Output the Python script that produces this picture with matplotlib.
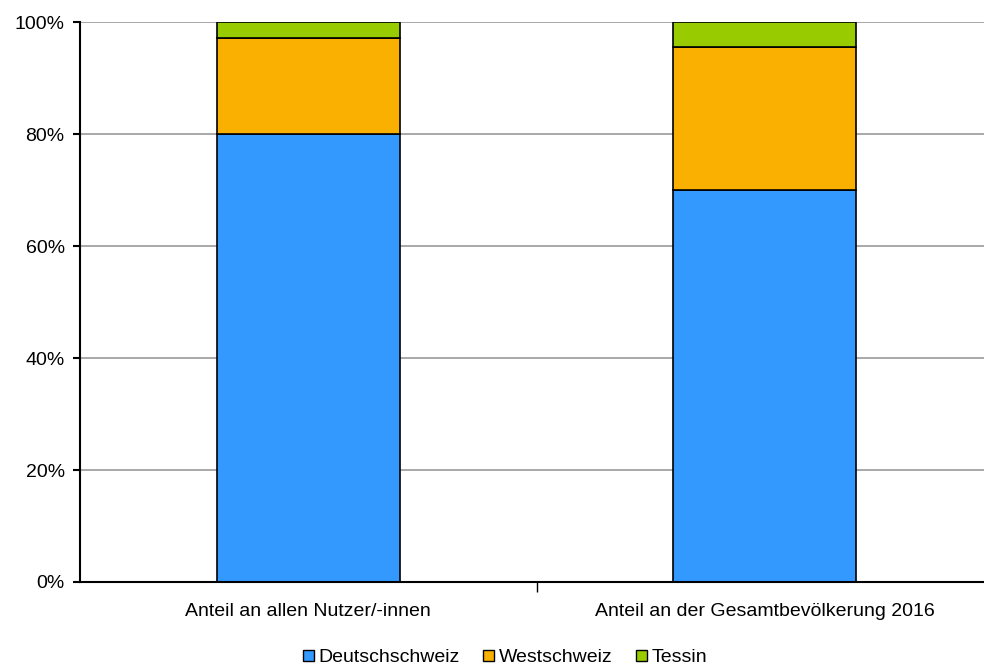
# stacked percentage bars by language region
import matplotlib.pyplot as plt
import numpy as np
from matplotlib.patches import Patch

plt.rcParams['font.family'] = ['Liberation Sans', 'DejaVu Sans']

# data
categories = ["Anteil an allen Nutzer/-innen",
              "Anteil an der Gesamtbevölkerung 2016"]
deutschschweiz = [80.0, 70.0]
westschweiz = [17.1, 25.5]
tessin = [2.9, 4.5]
series_names = ["Deutschschweiz", "Westschweiz", "Tessin"]
colors = ["#3399ff", "#f9b000", "#99cc00"]

fig = plt.figure(figsize=(9.84, 6.68), dpi=100)
ax = fig.add_axes([80 / 984, 86 / 668, 913 / 984, 560 / 668])

x_pos = np.arange(len(categories))
bottom = np.zeros(len(categories))
for vals, col in zip([deutschschweiz, westschweiz, tessin], colors):
    ax.bar(x_pos, vals, width=0.4, bottom=bottom, color=col,
           edgecolor="black", linewidth=1.2, zorder=3)
    bottom += np.array(vals)

ax.set_xlim(-0.5, 1.5)
ax.set_ylim(0, 100)
ax.set_yticks(np.arange(0, 101, 20))
ax.set_yticklabels([f"{v}%" for v in range(0, 101, 20)], fontsize=14)
ax.yaxis.grid(True, color="#999999", linewidth=1.2, zorder=0)

# category labels sit between tick marks
ax.set_xticks([0.5])
ax.set_xticklabels([""])
ax.set_xticks(x_pos, minor=True)
ax.set_xticklabels(categories, minor=True, fontsize=14)
ax.tick_params(axis="x", which="minor", length=0, pad=15)
ax.tick_params(axis="x", which="major", length=7, width=1, direction="out")
ax.tick_params(axis="y", length=5, width=1.5, direction="out", pad=6)

for side in ["top", "right"]:
    ax.spines[side].set_visible(False)
ax.spines["left"].set_linewidth(1.5)
ax.spines["bottom"].set_linewidth(1.5)
ax.spines["bottom"].set_zorder(4)

handles = [Patch(facecolor=c, edgecolor="black", label=n)
           for c, n in zip(colors, series_names)]
fig.legend(handles=handles, loc="center", bbox_to_anchor=(505 / 984, 1 - 658 / 668),
           ncol=3, frameon=False, fontsize=14, handlelength=0.55,
           handleheight=0.55, handletextpad=0.25, columnspacing=1.2,
           borderpad=0)

plt.savefig("out.png", dpi=100)
